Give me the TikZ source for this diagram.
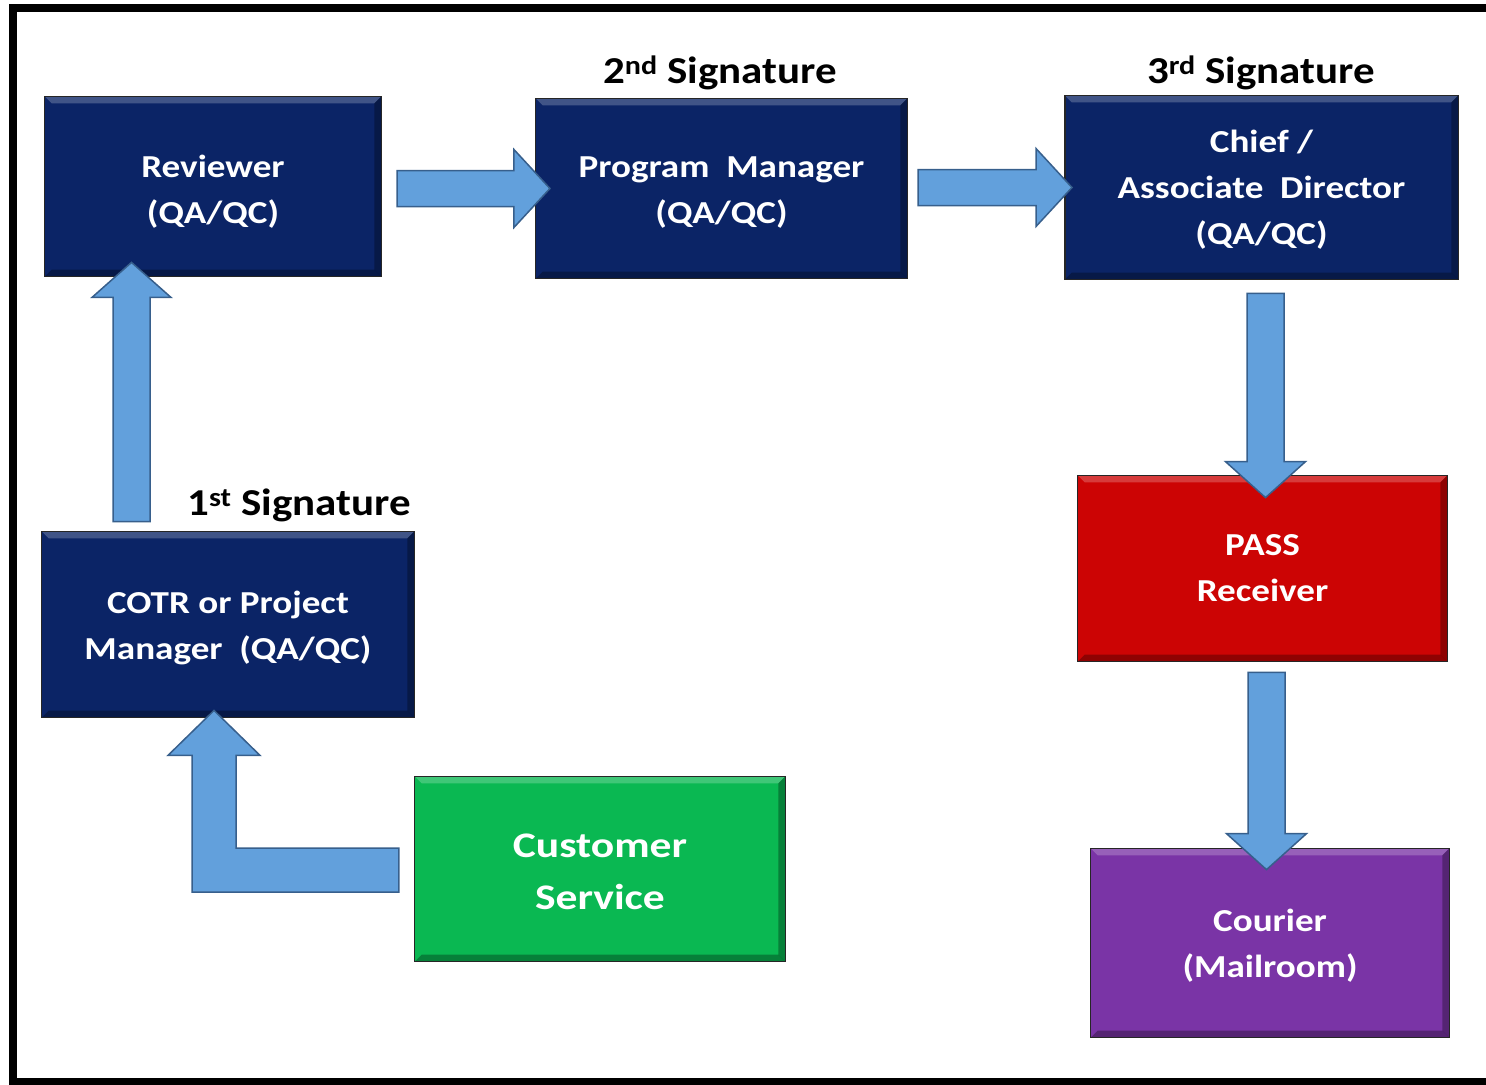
\documentclass[tikz,border=0pt]{standalone}
\usepackage{fontspec}
\setmainfont{Carlito}
\newfontfamily\boxfont[FakeStretch=1.16]{Carlito Bold}
\newfontfamily\csfont[FakeStretch=1.21]{Carlito Bold}
\newfontfamily\sigfont[FakeStretch=1.13]{Carlito Bold}
\usetikzlibrary{calc}

\definecolor{navybox}{RGB}{11,36,102}
\definecolor{redbox}{RGB}{204,4,4}
\definecolor{greenbox}{RGB}{10,184,82}
\definecolor{purplebox}{RGB}{122,52,166}
\definecolor{arrowfill}{RGB}{98,160,220}
\definecolor{arrowline}{RGB}{55,95,140}

% strut that pushes a box's text block slightly downwards
\newcommand\lowerby[1]{\rule{0pt}{\dimexpr 24bp+#1\relax}}

% Block arrows: #1 is the tail point, #2 the tip point
\newcommand\blockR[2]{%
  \filldraw[barrow] ($(#1|-#2)+(0,-18)$) -- ($(#2)+(-36,-18)$) -- ($(#2)+(-36,-39)$)
    -- (#2) -- ($(#2)+(-36,39)$) -- ($(#2)+(-36,18)$) -- ($(#1|-#2)+(0,18)$) -- cycle;}
\newcommand\blockD[2]{%
  \filldraw[barrow] ($(#2|-#1)+(-18.5,0)$) -- ($(#2)+(-18.5,-36)$) -- ($(#2)+(-40,-36)$)
    -- (#2) -- ($(#2)+(40,-36)$) -- ($(#2)+(18.5,-36)$) -- ($(#2|-#1)+(18.5,0)$) -- cycle;}
\newcommand\blockU[2]{%
  \filldraw[barrow] ($(#2|-#1)+(-18.5,0)$) -- ($(#2)+(-18.5,35)$) -- ($(#2)+(-39.5,35)$)
    -- (#2) -- ($(#2)+(39.5,35)$) -- ($(#2)+(18.5,35)$) -- ($(#2|-#1)+(18.5,0)$) -- cycle;}

\begin{document}
\begin{tikzpicture}[x=1bp, y=-1bp,
  box/.style={draw=black!85, line width=1.5bp, text=white, align=center,
    font=\boxfont\fontsize{32bp}{46bp}\selectfont, inner sep=0pt,
    path picture={
      \fill[white, opacity=0.22] (path picture bounding box.north west)
        -- (path picture bounding box.north east)
        -- ($(path picture bounding box.north east)+(-7,7)$)
        -- ($(path picture bounding box.north west)+(7,7)$) -- cycle;
      \fill[black, opacity=0.30] (path picture bounding box.north east)
        -- (path picture bounding box.south east)
        -- ($(path picture bounding box.south east)+(-7,-7)$)
        -- ($(path picture bounding box.north east)+(-7,7)$) -- cycle;
      \fill[black, opacity=0.30] (path picture bounding box.south west)
        -- (path picture bounding box.south east)
        -- ($(path picture bounding box.south east)+(-7,-7)$)
        -- ($(path picture bounding box.south west)+(7,-7)$) -- cycle;
    }},
  barrow/.style={fill=arrowfill, draw=arrowline, line width=1.5bp, line join=miter},
  sig/.style={font=\sigfont\fontsize{38bp}{44bp}\selectfont, text=black, inner sep=0pt, anchor=base},
  frame/.style={line width=8bp, draw=black}
]
\useasboundingbox (0,0) rectangle (1486,1084);

% outer frame (open on the right)
\draw[frame] (1486,8) -- (13,8) -- (13,1082) -- (1486,1082);

% boxes
\node[box, fill=navybox, minimum width=338, minimum height=181] (rev) at (213,186.5)
  {\lowerby{9bp}Reviewer\\(QA/QC)};
\node[box, fill=navybox, minimum width=373, minimum height=181] (pm) at (721.5,188.5)
  {\lowerby{5bp}Program\ \ Manager\\(QA/QC)};
\node[box, fill=navybox, minimum width=395, minimum height=185] (chief) at (1261.5,187.5)
  {\lowerby{3bp}Chief /\\Associate\ \ Director\\(QA/QC)};
\node[box, fill=redbox, minimum width=371, minimum height=187] (pass) at (1262.5,568.5)
  {PASS\\Receiver};
\node[box, fill=purplebox, minimum width=360, minimum height=190] (courier) at (1270,943)
  {\lowerby{4bp}Courier\\(Mailroom)};
\node[box, fill=navybox, minimum width=374, minimum height=187] (cotr) at (228,624.5)
  {\lowerby{6bp}COTR or Project\\Manager\ \ (QA/QC)};
\node[box, fill=greenbox, minimum width=372, minimum height=186,
  font=\csfont\fontsize{36bp}{52bp}\selectfont] (cs) at (600,869)
  {\lowerby{5bp}Customer\\Service};

% signature labels
\node[sig] (sig1) at (299,515) {1\textsuperscript{st} Signature};
\node[sig] (sig2) at (720,83) {2\textsuperscript{nd} Signature};
\node[sig] (sig3) at (1261,83) {3\textsuperscript{rd} Signature};

% arrow end points
\coordinate (a1s) at ($(rev.east)+(15,0)$);
\coordinate (a1t) at ($(pm.west)+(15,0)$);
\coordinate (a2s) at ($(pm.east)+(10,0)$);
\coordinate (a2t) at ($(chief.west)+(8,0)$);
\coordinate (a3s) at ($(chief.south)+(4,13)$);
\coordinate (a3t) at ($(pass.north)+(3,23)$);
\coordinate (a4s) at ($(pass.south)+(4,10)$);
\coordinate (a4t) at ($(courier.north)+(-3.5,22)$);
\coordinate (a5s) at ($(cotr.north)+(-96.5,-9)$);
\coordinate (a5t) at ($(rev.south)+(-81.5,-15)$);
\coordinate (a6s) at ($(cs.west)+(-15,1)$);
\coordinate (a6t) at ($(cotr.south)+(-14,-8)$);

% arrows
\blockR{a1s}{a1t}
\blockR{a2s}{a2t}
\blockD{a3s}{a3t}
\blockD{a4s}{a4t}
\blockU{a5s}{a5t}
\filldraw[barrow] ($(a6s)+(0,-22)$) -- ($(a6t|-a6s)+(22,-22)$) -- ($(a6t)+(22,45)$)
  -- ($(a6t)+(46,45)$) -- (a6t) -- ($(a6t)+(-46,45)$) -- ($(a6t)+(-22,45)$)
  -- ($(a6t|-a6s)+(-22,22)$) -- ($(a6s)+(0,22)$) -- cycle;
\end{tikzpicture}
\end{document}
